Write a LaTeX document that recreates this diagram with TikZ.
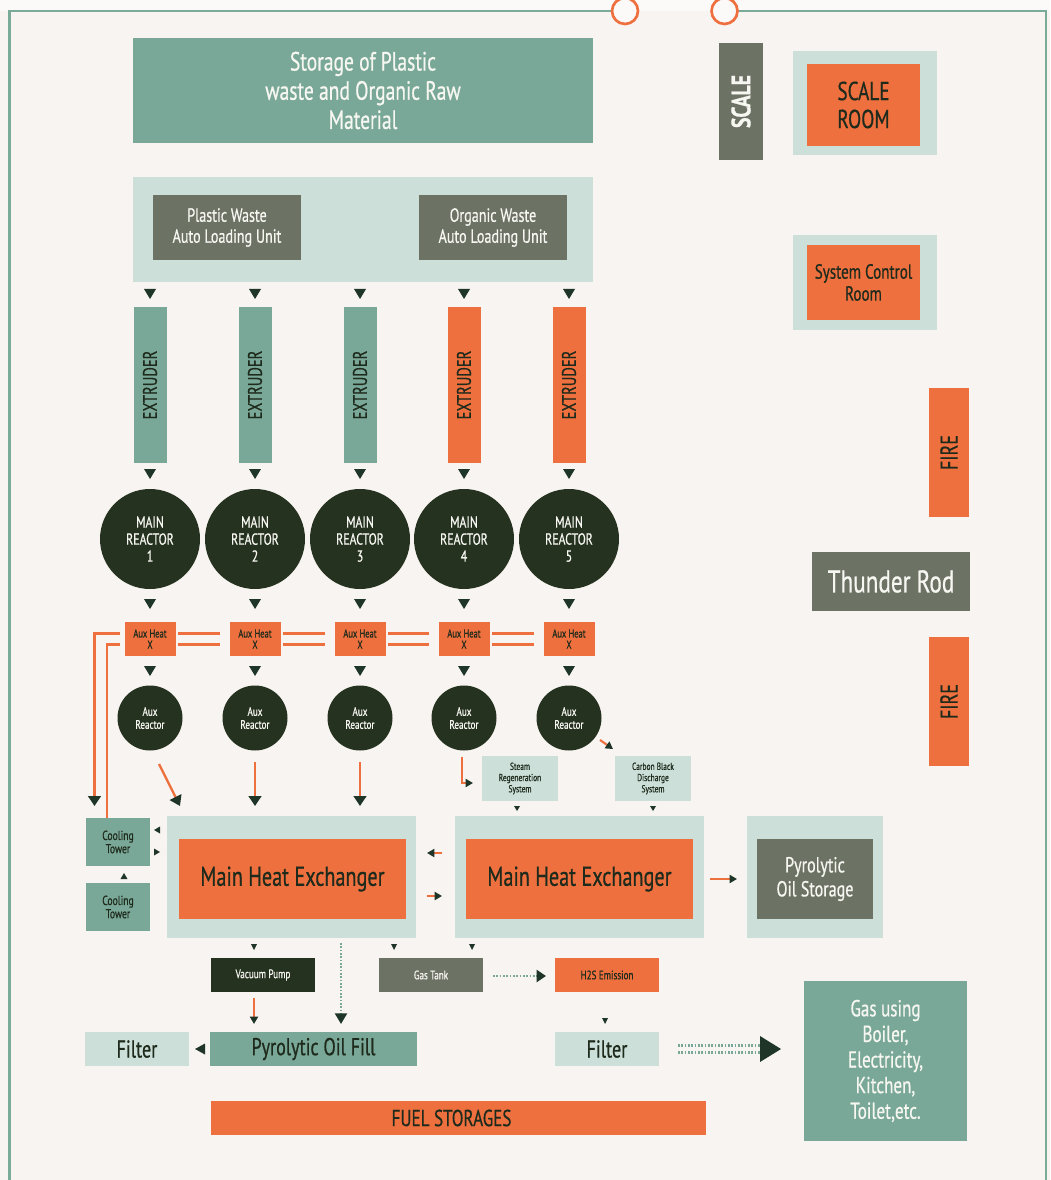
\documentclass[tikz,border=0pt]{standalone}
\usepackage{fontspec}
\setmainfont{PT Sans}[FakeStretch=0.74,FakeBold=0.6]
\usetikzlibrary{arrows.meta,calc}
\definecolor{bg}{HTML}{F8F4F1}
\definecolor{topbg}{HTML}{FCFAF9}
\definecolor{cTeal}{HTML}{7AA898}
\definecolor{cLight}{HTML}{CCDFD9}
\definecolor{cOr}{HTML}{EE703E}
\definecolor{cDark}{HTML}{263220}
\definecolor{cGrey}{HTML}{6C7264}
\definecolor{cArr}{HTML}{1E3527}
\definecolor{cTxt}{HTML}{1E2A1C}
\definecolor{cWhite}{HTML}{F7F7F2}
\definecolor{cFrame}{HTML}{7AAB98}
\newcommand\fsz[2]{\fontsize{#1}{#2}\selectfont}
\newcommand\bx[7]{\node[#6,minimum width={(#4-#2)*0.75pt},minimum height={(#5-#3)*0.75pt}] (#1) at ({(#2+#4)/2},{(#3+#5)/2}) {#7};}
\newcommand\bxc[7]{\node[#6,minimum width={(#4)*0.75pt},minimum height={(#5)*0.75pt}] (#1) at (#2,#3) {#7};}
\newcommand\tdown[3]{\fill[cArr] #1 -- ++({-(#2)/2},{-(#3)}) -- ++({#2},0) -- cycle;}
\newcommand\tup[3]{\fill[cArr] #1 -- ++({-(#2)/2},{#3}) -- ++({#2},0) -- cycle;}
\newcommand\tleft[3]{\fill[cArr] #1 -- ++({#2},{-(#3)/2}) -- ++(0,{#3}) -- cycle;}
\newcommand\tright[3]{\fill[cArr] #1 -- ++({-(#2)},{-(#3)/2}) -- ++(0,{#3}) -- cycle;}
\begin{document}
\begin{tikzpicture}[x=0.75pt,y=-0.75pt,
 box/.style={rectangle,inner sep=0pt,outer sep=0pt,align=center,draw=none},
 tealbox/.style={box,fill=cTeal},
 lightbox/.style={box,fill=cLight},
 orbox/.style={box,fill=cOr,text=cTxt},
 greybox/.style={box,fill=cGrey,text=cWhite},
 darkbox/.style={box,fill=cDark,text=cWhite},
 wtxt/.style={text=cWhite},
 dtxt/.style={text=cTxt},
 reactor/.style={circle,fill=cDark,text=cWhite,inner sep=0pt,outer sep=0pt,align=center},
 oline/.style={cOr,line width=1.8pt},
 dotline/.style={cTeal,line width=1.6pt,dash pattern=on 1.2pt off 1.3pt},
 bigtip/.style={-{Triangle[length=7.5pt,width=9.5pt,color=cArr]}},
 smalltip/.style={-{Triangle[length=5.5pt,width=6pt,color=cArr]}},
]
\fill[bg] (0,0) rectangle (1050,1180);
\fill[topbg] (0,0) rectangle (1050,11);
\useasboundingbox (0,0) rectangle (1050,1180);
% frame
\draw[cFrame,line width=2pt] (9.5,1190) -- (9.5,11) -- (612,11);
\draw[cFrame,line width=2pt] (737,11) -- (1046,11) -- (1046,1190);
\draw[cOr,line width=2pt,fill=topbg] (625,11) circle[radius=9.75pt];
\draw[cOr,line width=2pt,fill=topbg] (724.5,11) circle[radius=9.75pt];

% top
\bx{storage}{133}{38}{593}{143}{tealbox,wtxt,font=\fsz{19.8}{21.9}}{Storage of Plastic\\waste and Organic Raw\\Material}
\bx{scale}{719}{43}{763}{160}{greybox}{}
\node[rotate=90,text=cWhite,font=\bfseries\fsz{20}{20}] (scaletxt) at (scale.center) {SCALE};
\bx{sro}{793}{51}{937}{155}{lightbox}{}
\bx{sr}{807}{64}{920}{146}{orbox,font=\fsz{19.5}{21}}{SCALE\\ROOM}

\bx{load}{133}{177}{593}{282}{lightbox}{}
\bx{plu}{153}{195}{301}{260}{greybox,font=\fsz{14.3}{15.75}}{Plastic Waste\\Auto Loading Unit}
\bx{olu}{419}{195}{567}{260}{greybox,font=\fsz{14.3}{15.75}}{Organic Waste\\Auto Loading Unit}

% columns
\foreach \i/\x/\c in {1/150/cTeal,2/255/cTeal,3/360/cTeal,4/464/cOr,5/569/cOr}{
  \bxc{ext\i}{\x}{385}{33}{156}{box,fill=\c}{}
  \node[rotate=90,text=cTxt,font=\fsz{14.8}{14.8}] (extt\i) at (ext\i) {EXTRUDER};
  \tdown{($(ext\i.north)+(0,-8)$)}{12}{10}
  \node[reactor,minimum size=75pt,font=\fsz{12}{12.75}] (mr\i) at (\x,539) {MAIN\\REACTOR\\\i};
  \tdown{($(mr\i.north)+(0,-10)$)}{12}{10}
  \bxc{ah\i}{\x}{639}{51}{34}{orbox,font=\fsz{8.6}{8.4}}{Aux Heat\\X}
  \tdown{($(ah\i.north)+(0,-13)$)}{12}{10}
  \node[reactor,minimum size=48.75pt,font=\fsz{9.2}{9.75}] (ar\i) at (\x,718) {Aux\\Reactor};
  \tdown{($(ar\i.north)+(0,-9.5)$)}{12}{10}
}
\foreach \i/\j in {1/2,2/3,3/4,4/5}{
  \draw[oline] ($(ah\i.east)+(2,-5.5)$) -- ($(ah\j.west)+(-10,-5.5)$);
  \draw[oline] ($(ah\i.east)+(2,5.5)$) -- ($(ah\j.west)+(-10,5.5)$);
}

% cooling towers
\bx{ct1}{86}{818}{150}{866}{tealbox,dtxt,font=\fsz{9.8}{9.9}}{Cooling\\Tower}
\bx{ct2}{86}{883}{150}{931}{tealbox,dtxt,font=\fsz{9.8}{9.9}}{Cooling\\Tower}
\draw[oline,bigtip] ($(ah1.west)+(-5,-5.5)$) -| ($(ct1.north west)+(8.5,-12)$);
\draw[oline] ($(ah1.west)+(-5,5.5)$) -| ($(ct1.north west)+(21,0)$);
\tup{($(ct2.north)+(6,-10)$)}{7}{6}
\tleft{($(ct1.east)+(4,-12)$)}{6}{7}
\tright{($(ct1.east)+(10,10)$)}{6}{7}

% heat exchangers
\bx{hx1o}{167}{816}{416}{938}{lightbox}{}
\bx{hx1}{179}{839}{406}{919}{orbox,font=\fsz{20.5}{22}}{Main Heat Exchanger}
\bx{hx2o}{455}{816}{704}{938}{lightbox}{}
\bx{hx2}{466}{839}{693}{919}{orbox,font=\fsz{20.5}{22}}{Main Heat Exchanger}
\bx{poso}{747}{816}{883}{938}{lightbox}{}
\bx{pos}{757}{839}{873}{919}{greybox,font=\fsz{16.3}{18}}{Pyrolytic\\Oil Storage}

\draw[oline,bigtip] ($(ar1.center)+(9,46)$) -- ($(hx1o.north west)+(13,-10)$);
\draw[oline,bigtip] ($(ar2.center)+(0,44)$) -- ($(ar2.center |- hx1o.north)+(0,-10)$);
\draw[oline,bigtip] ($(ar3.center)+(0,44)$) -- ($(ar3.center |- hx1o.north)+(0,-10)$);

\draw[oline,smalltip] ($(hx2o.west)+(-13,-24)$) -- ($(hx1o.east)+(11,-24)$);
\draw[oline,smalltip] ($(hx1o.east)+(11,19)$) -- ($(hx2o.west)+(-13,19)$);
\draw[oline,smalltip] ($(hx2o.east)+(6,2)$) -- ($(poso.west)+(-10,2)$);

% steam / carbon
\bx{steam}{482}{756}{558}{801}{lightbox,dtxt,font=\fsz{7.6}{8.4}}{Steam\\Regeneration\\System}
\bx{carbon}{615}{756}{691}{801}{lightbox,dtxt,font=\fsz{7.6}{8.4}}{Carbon Black\\Discharge\\System}
\draw[oline,line width=1.6pt,smalltip] ($(ar4.south)+(-2,6)$) |- ($(steam.west)+(-9,4.5)$);
\draw[oline,line width=1.6pt,smalltip] ($(ar5.center)+(31,22)$) -- ($(carbon.north west)+(-2,-7)$);
\tdown{($(steam.south)+(-3,10)$)}{6}{5}
\tdown{($(carbon.south)+(0,10)$)}{6}{5}

% bottom
\bx{vp}{211}{958}{315}{992}{darkbox,font=\fsz{9.2}{9}}{Vacuum Pump}
\bx{gt}{379}{958}{483}{992}{greybox,font=\fsz{9.2}{9}}{Gas Tank}
\bx{h2s}{555}{958}{659}{992}{orbox,font=\fsz{9.2}{9}}{H2S Emission}
\tdown{($(vp.north)+(-9,-8)$)}{6}{6}
\tdown{($(gt.north west)+(15,-8)$)}{6}{6}
\tdown{($(gt.north east)+(-11,-8)$)}{6}{6}

\bx{oilfill}{210}{1032}{417}{1066}{tealbox,dtxt,font=\fsz{18.3}{18}}{Pyrolytic Oil Fill}
\bx{filterL}{85}{1032}{189}{1066}{lightbox,dtxt,font=\fsz{18.3}{18}}{Filter}
\bx{filterR}{555}{1032}{659}{1066}{lightbox,dtxt,font=\fsz{18.3}{18}}{Filter}
\bx{gasuse}{804}{981}{967}{1141}{tealbox,wtxt,font=\fsz{17.3}{19.2}}{\raisebox{-2pt}{\parbox{100pt}{\centering Gas using\\Boiler,\\Electricity,\\Kitchen,\\Toilet,etc.}}}
\bx{fuel}{211}{1101}{706}{1135}{orbox,font=\fsz{17.3}{17}}{\hspace*{-10.5pt}\raisebox{-3.5pt}{FUEL STORAGES}}

\draw[dotline,-{Triangle[length=8pt,width=9pt,color=cArr]}] ($(hx1o.south)+(49.5,5)$) -- ($(oilfill.north)+(27.5,-8)$);
\draw[oline,smalltip] ($(vp.south)+(-9,6)$) -- ($(oilfill.north -| vp.south)+(-9,-8)$);
\tleft{($(filterL.east)+(6,0)$)}{10}{11}
\draw[dotline,-{Triangle[length=7pt,width=9pt,color=cArr]}] ($(gt.east)+(10,1)$) -- ($(h2s.west)+(-9,1)$);
\tdown{($(filterR.north)+(-2,-8)$)}{6}{6}
\draw[dotline] ($(filterR.east)+(19,-3.5)$) -- ($(filterR.east -| gasuse.west)+(-42,-3.5)$);
\draw[dotline] ($(filterR.east)+(19,3.5)$) -- ($(filterR.east -| gasuse.west)+(-42,3.5)$);
\tright{($(filterR.east -| gasuse.west)+(-23,0)$)}{21}{26}

% right side
\bx{scro}{793}{235}{937}{330}{lightbox}{}
\bx{scr}{807}{245}{920}{320}{orbox,font=\fsz{15.3}{16.5}}{System Control\\Room}
\bx{fire1}{929}{388}{969}{517}{orbox}{}
\node[rotate=90,text=cTxt,font=\fsz{18.3}{18}] (fire1t) at (fire1) {FIRE};
\bx{thunder}{812}{552}{970}{611}{greybox,font=\fsz{23.5}{23.5}}{Thunder Rod}
\bx{fire2}{929}{637}{969}{766}{orbox}{}
\node[rotate=90,text=cTxt,font=\fsz{18.3}{18}] (fire2t) at (fire2) {FIRE};
\end{tikzpicture}
\end{document}
